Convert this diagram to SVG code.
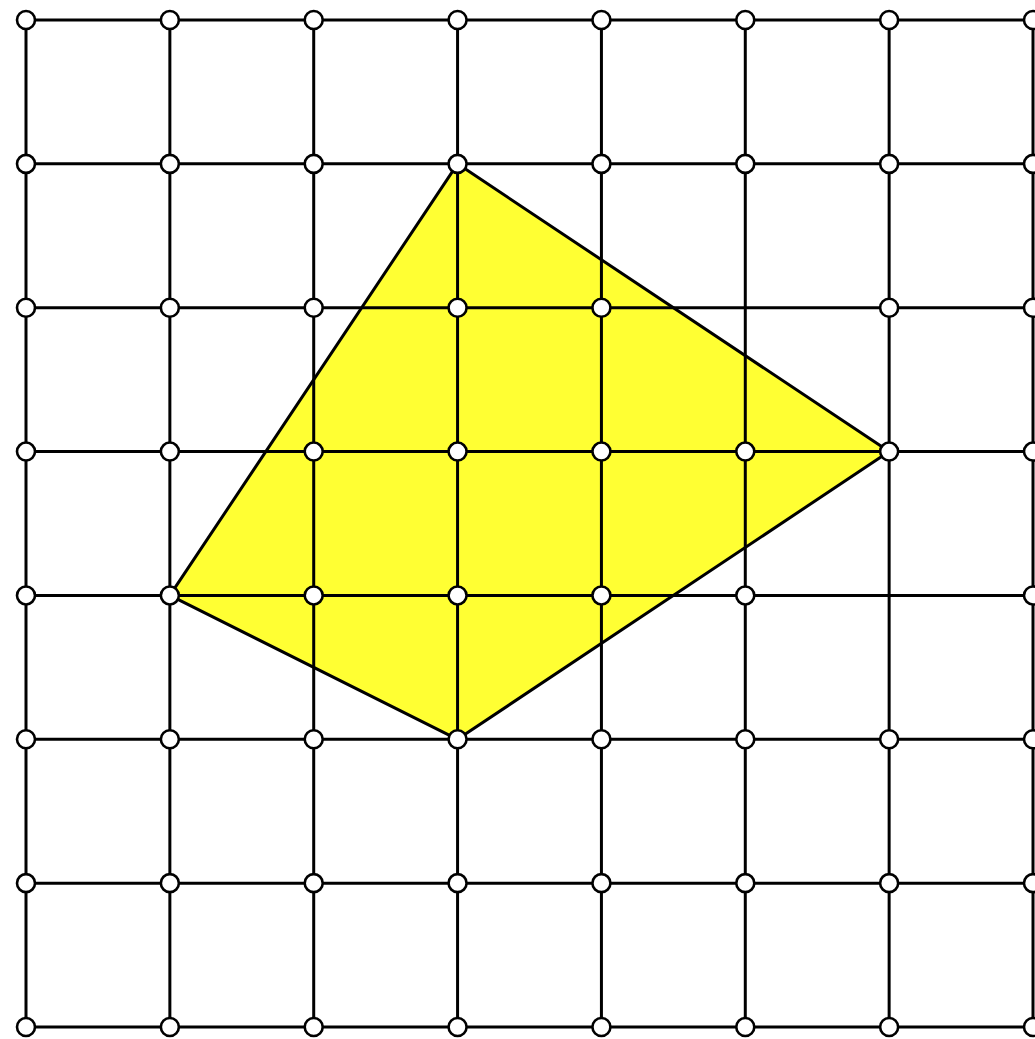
<svg xmlns="http://www.w3.org/2000/svg" width="1035" height="1039" viewBox="0 0 1035 1039">
<style>
.g{stroke:#000;stroke-width:3;fill:none}
.n{fill:#fff;stroke:#000;stroke-width:2.6}
.p{fill:#ffff33;stroke:#000;stroke-width:3;stroke-linejoin:round}
</style>
<rect width="1035" height="1039" fill="#fff"/>
<polygon id="shape" class="p" points="457.57,163.86 889.14,451.57 457.57,739.29 169.86,595.43"/>
<g id="connectors" class="g">
<line x1="26" y1="20" x2="1033" y2="20"/>
<line x1="26" y1="163.86" x2="1033" y2="163.86"/>
<line x1="26" y1="307.71" x2="1033" y2="307.71"/>
<line x1="26" y1="451.57" x2="1033" y2="451.57"/>
<line x1="26" y1="595.43" x2="1033" y2="595.43"/>
<line x1="26" y1="739.29" x2="1033" y2="739.29"/>
<line x1="26" y1="883.14" x2="1033" y2="883.14"/>
<line x1="26" y1="1027" x2="1033" y2="1027"/>
<line x1="26" y1="20" x2="26" y2="1027"/>
<line x1="169.86" y1="20" x2="169.86" y2="1027"/>
<line x1="313.71" y1="20" x2="313.71" y2="1027"/>
<line x1="457.57" y1="20" x2="457.57" y2="1027"/>
<line x1="601.43" y1="20" x2="601.43" y2="1027"/>
<line x1="745.29" y1="20" x2="745.29" y2="1027"/>
<line x1="889.14" y1="20" x2="889.14" y2="1027"/>
<line x1="1033" y1="20" x2="1033" y2="1027"/>
</g>
<g id="nodes">
<g id="n0_0"><circle class="n" cx="26" cy="20" r="9"/></g>
<g id="n1_0"><circle class="n" cx="169.86" cy="20" r="9"/></g>
<g id="n2_0"><circle class="n" cx="313.71" cy="20" r="9"/></g>
<g id="n3_0"><circle class="n" cx="457.57" cy="20" r="9"/></g>
<g id="n4_0"><circle class="n" cx="601.43" cy="20" r="9"/></g>
<g id="n5_0"><circle class="n" cx="745.29" cy="20" r="9"/></g>
<g id="n6_0"><circle class="n" cx="889.14" cy="20" r="9"/></g>
<g id="n7_0"><circle class="n" cx="1033" cy="20" r="9"/></g>
<g id="n0_1"><circle class="n" cx="26" cy="163.86" r="9"/></g>
<g id="n1_1"><circle class="n" cx="169.86" cy="163.86" r="9"/></g>
<g id="n2_1"><circle class="n" cx="313.71" cy="163.86" r="9"/></g>
<g id="n3_1"><circle class="n" cx="457.57" cy="163.86" r="9"/></g>
<g id="n4_1"><circle class="n" cx="601.43" cy="163.86" r="9"/></g>
<g id="n5_1"><circle class="n" cx="745.29" cy="163.86" r="9"/></g>
<g id="n6_1"><circle class="n" cx="889.14" cy="163.86" r="9"/></g>
<g id="n7_1"><circle class="n" cx="1033" cy="163.86" r="9"/></g>
<g id="n0_2"><circle class="n" cx="26" cy="307.71" r="9"/></g>
<g id="n1_2"><circle class="n" cx="169.86" cy="307.71" r="9"/></g>
<g id="n2_2"><circle class="n" cx="313.71" cy="307.71" r="9"/></g>
<g id="n3_2"><circle class="n" cx="457.57" cy="307.71" r="9"/></g>
<g id="n4_2"><circle class="n" cx="601.43" cy="307.71" r="9"/></g>
<g id="n6_2"><circle class="n" cx="889.14" cy="307.71" r="9"/></g>
<g id="n7_2"><circle class="n" cx="1033" cy="307.71" r="9"/></g>
<g id="n0_3"><circle class="n" cx="26" cy="451.57" r="9"/></g>
<g id="n1_3"><circle class="n" cx="169.86" cy="451.57" r="9"/></g>
<g id="n2_3"><circle class="n" cx="313.71" cy="451.57" r="9"/></g>
<g id="n3_3"><circle class="n" cx="457.57" cy="451.57" r="9"/></g>
<g id="n4_3"><circle class="n" cx="601.43" cy="451.57" r="9"/></g>
<g id="n5_3"><circle class="n" cx="745.29" cy="451.57" r="9"/></g>
<g id="n6_3"><circle class="n" cx="889.14" cy="451.57" r="9"/></g>
<g id="n7_3"><circle class="n" cx="1033" cy="451.57" r="9"/></g>
<g id="n0_4"><circle class="n" cx="26" cy="595.43" r="9"/></g>
<g id="n1_4"><circle class="n" cx="169.86" cy="595.43" r="9"/></g>
<g id="n2_4"><circle class="n" cx="313.71" cy="595.43" r="9"/></g>
<g id="n3_4"><circle class="n" cx="457.57" cy="595.43" r="9"/></g>
<g id="n4_4"><circle class="n" cx="601.43" cy="595.43" r="9"/></g>
<g id="n5_4"><circle class="n" cx="745.29" cy="595.43" r="9"/></g>
<g id="n7_4"><circle class="n" cx="1033" cy="595.43" r="9"/></g>
<g id="n0_5"><circle class="n" cx="26" cy="739.29" r="9"/></g>
<g id="n1_5"><circle class="n" cx="169.86" cy="739.29" r="9"/></g>
<g id="n2_5"><circle class="n" cx="313.71" cy="739.29" r="9"/></g>
<g id="n3_5"><circle class="n" cx="457.57" cy="739.29" r="9"/></g>
<g id="n4_5"><circle class="n" cx="601.43" cy="739.29" r="9"/></g>
<g id="n5_5"><circle class="n" cx="745.29" cy="739.29" r="9"/></g>
<g id="n6_5"><circle class="n" cx="889.14" cy="739.29" r="9"/></g>
<g id="n7_5"><circle class="n" cx="1033" cy="739.29" r="9"/></g>
<g id="n0_6"><circle class="n" cx="26" cy="883.14" r="9"/></g>
<g id="n1_6"><circle class="n" cx="169.86" cy="883.14" r="9"/></g>
<g id="n2_6"><circle class="n" cx="313.71" cy="883.14" r="9"/></g>
<g id="n3_6"><circle class="n" cx="457.57" cy="883.14" r="9"/></g>
<g id="n4_6"><circle class="n" cx="601.43" cy="883.14" r="9"/></g>
<g id="n5_6"><circle class="n" cx="745.29" cy="883.14" r="9"/></g>
<g id="n6_6"><circle class="n" cx="889.14" cy="883.14" r="9"/></g>
<g id="n7_6"><circle class="n" cx="1033" cy="883.14" r="9"/></g>
<g id="n0_7"><circle class="n" cx="26" cy="1027" r="9"/></g>
<g id="n1_7"><circle class="n" cx="169.86" cy="1027" r="9"/></g>
<g id="n2_7"><circle class="n" cx="313.71" cy="1027" r="9"/></g>
<g id="n3_7"><circle class="n" cx="457.57" cy="1027" r="9"/></g>
<g id="n4_7"><circle class="n" cx="601.43" cy="1027" r="9"/></g>
<g id="n5_7"><circle class="n" cx="745.29" cy="1027" r="9"/></g>
<g id="n6_7"><circle class="n" cx="889.14" cy="1027" r="9"/></g>
<g id="n7_7"><circle class="n" cx="1033" cy="1027" r="9"/></g>
</g>
</svg>
